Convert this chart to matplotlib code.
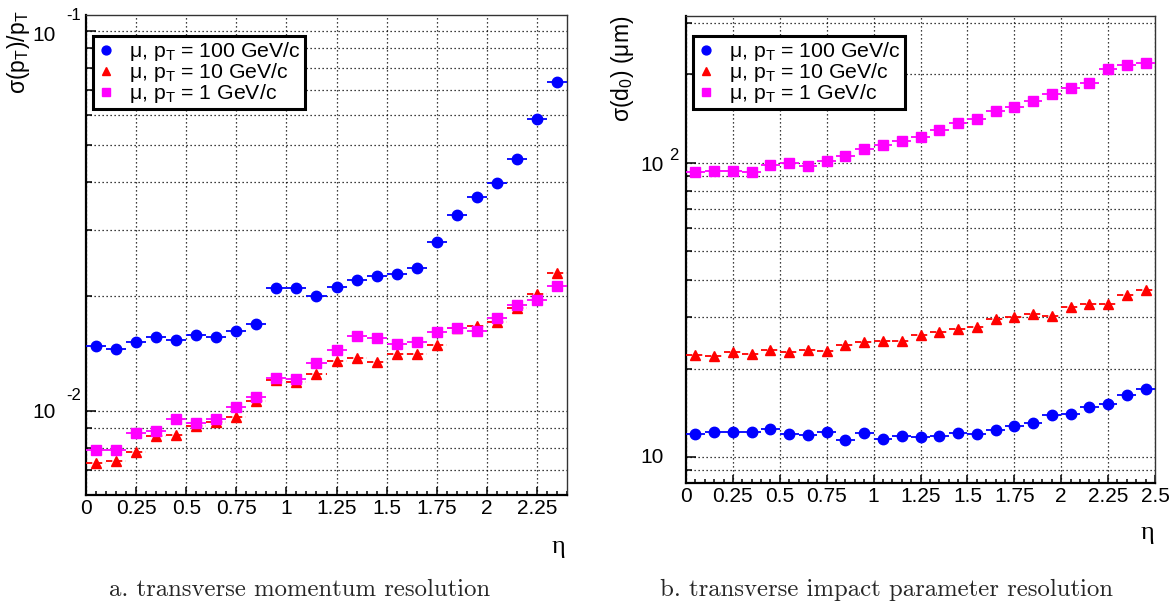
import matplotlib
matplotlib.use('Agg')
import matplotlib.pyplot as plt
from matplotlib.lines import Line2D
from matplotlib.ticker import LogLocator, MultipleLocator, NullFormatter, FixedLocator, FixedFormatter

plt.rcParams['font.family'] = ['Liberation Sans', 'DejaVu Sans']
plt.rcParams['mathtext.fontset'] = 'custom'
plt.rcParams['mathtext.rm'] = 'Liberation Sans'
plt.rcParams['mathtext.it'] = 'Liberation Sans:italic'
plt.rcParams['mathtext.bf'] = 'Liberation Sans:bold'
plt.rcParams['mathtext.default'] = 'regular'

# ---------------- data ----------------
eta_a = [0.05, 0.15, 0.25, 0.35, 0.45, 0.55, 0.65, 0.75, 0.85, 0.95, 1.05, 1.15,
         1.25, 1.35, 1.45, 1.55, 1.65, 1.75, 1.85, 1.95, 2.05, 2.15, 2.25, 2.35]
ptres_100 = [0.0148, 0.0145, 0.0152, 0.0156, 0.01535, 0.0158, 0.0156, 0.0162, 0.0169,
             0.0211, 0.0211, 0.0201, 0.0212, 0.0221, 0.0227, 0.0229, 0.0238, 0.0278,
             0.0328, 0.0366, 0.0398, 0.0460, 0.0587, 0.0734]
ptres_10 = [0.00727, 0.00739, 0.0078, 0.00859, 0.00865, 0.00913, 0.00932, 0.0096, 0.01062,
            0.01207, 0.01194, 0.01249, 0.01351, 0.01379, 0.01346, 0.0141, 0.0141, 0.01489,
            0.01647, 0.01674, 0.01708, 0.0187, 0.0203, 0.0230]
ptres_1 = [0.00789, 0.00789, 0.00872, 0.00886, 0.00951, 0.00928, 0.00951, 0.0102, 0.01084,
           0.01221, 0.01216, 0.01332, 0.01447, 0.01575, 0.01553, 0.01503, 0.01519, 0.01614,
           0.01654, 0.0162, 0.0175, 0.01897, 0.01959, 0.0213]

eta_b = [0.05, 0.15, 0.25, 0.35, 0.45, 0.55, 0.65, 0.75, 0.85, 0.95, 1.05, 1.15, 1.25,
         1.35, 1.45, 1.55, 1.65, 1.75, 1.85, 1.95, 2.05, 2.15, 2.25, 2.35, 2.45]
d0res_100 = [12.0, 12.16, 12.2, 12.13, 12.42, 12.0, 11.88, 12.16, 11.4, 12.04, 11.55, 11.82,
             11.7, 11.82, 12.07, 12.0, 12.35, 12.71, 13.05, 13.86, 13.97, 14.8, 15.1, 16.3, 17.0]
d0res_10 = [22.2, 22.0, 22.75, 22.4, 23.1, 22.75, 23.1, 22.9, 24.0, 24.7, 24.9, 24.9, 26.1,
            26.7, 27.3, 27.7, 29.5, 29.9, 30.6, 30.1, 32.4, 33.1, 33.2, 35.6, 36.9]
d0res_1 = [93.0, 94.2, 94.2, 93.4, 98.7, 99.8, 97.9, 101.6, 105.9, 111.3, 114.7, 119.1, 122.6,
           129.2, 136.5, 140.8, 150.6, 154.7, 162.1, 171.7, 180.4, 186.7, 208.8, 215.4, 218.3]

bin_halfwidth = 0.05
legend_labels = ['μ, p$_{T}$ = 100 GeV/c', 'μ, p$_{T}$ = 10 GeV/c', 'μ, p$_{T}$ = 1 GeV/c']
xticks_a = [0, 0.25, 0.5, 0.75, 1, 1.25, 1.5, 1.75, 2, 2.25]
xticklabels_a = ['0', '0.25', '0.5', '0.75', '1', '1.25', '1.5', '1.75', '2', '2.25']
xticks_b = [0, 0.25, 0.5, 0.75, 1, 1.25, 1.5, 1.75, 2, 2.25, 2.5]
xticklabels_b = ['0', '0.25', '0.5', '0.75', '1', '1.25', '1.5', '1.75', '2', '2.25', '2.5']

colors = ['#0000ff', '#ff0000', '#ff00ff']
markers = ['o', '^', 's']
msizes = [7.5, 7.5, 7.0]

W, H = 1172, 605
fig = plt.figure(figsize=(W / 100, H / 100), dpi=100)

def frac_rect(x0, y0, x1, y1):
    return [x0 / W, 1 - y1 / H, (x1 - x0) / W, (y1 - y0) / H]

ax1 = fig.add_axes(frac_rect(86, 15, 567, 495))
ax2 = fig.add_axes(frac_rect(686, 16, 1155, 483))

def draw(ax, eta, series, xlim, ylim, xticks, xticklabels):
    for vals, c, m, ms, i in zip(series, colors, markers, msizes, range(3)):
        cont = ax.errorbar(eta, vals, xerr=bin_halfwidth, fmt=m, color=c, ms=ms,
                           mec=c, mfc=c, elinewidth=1.3, capsize=0, zorder=3 + i)
        if i == 1:
            cont[2][0].set_linestyle((0, (3.5, 2)))
    ax.set_yscale('log')
    ax.set_xlim(*xlim)
    ax.set_ylim(*ylim)
    ax.xaxis.set_major_locator(FixedLocator(xticks))
    ax.xaxis.set_major_formatter(FixedFormatter(xticklabels))
    ax.xaxis.set_minor_locator(MultipleLocator(0.05))
    ax.yaxis.set_major_locator(LogLocator(base=10, numticks=10))
    ax.yaxis.set_minor_locator(LogLocator(base=10, subs=[2, 3, 4, 5, 6, 7, 8, 9], numticks=20))
    ax.yaxis.set_major_formatter(NullFormatter())
    ax.yaxis.set_minor_formatter(NullFormatter())
    grid_kw = dict(color='black', linestyle=(0, (1, 2.2)), linewidth=0.9)
    ax.grid(True, which='major', axis='x', **grid_kw)
    ax.grid(True, which='both', axis='y', **grid_kw)
    ax.set_axisbelow(True)
    ax.tick_params(which='both', direction='in', top=False, right=False, width=1.1,
                   labelsize=15, pad=3, color='black')
    ax.tick_params(axis='x', which='major', length=6)
    ax.tick_params(axis='x', which='minor', length=3)
    ax.tick_params(axis='y', which='major', length=7)
    ax.tick_params(axis='y', which='minor', length=4)
    for s in ['left', 'bottom']:
        ax.spines[s].set_linewidth(1.6)
        ax.spines[s].set_color('black')
    for s in ['top', 'right']:
        ax.spines[s].set_linewidth(1.0)
        ax.spines[s].set_color('#333333')
    handles = [Line2D([], [], ls='none', marker=m, color=c, ms=ms * 0.85)
               for c, m, ms in zip(colors, markers, msizes)]
    return handles

h1 = draw(ax1, eta_a, [ptres_100, ptres_10, ptres_1], (0, 2.4), (0.006, 0.1102),
          xticks_a, xticklabels_a)
h2 = draw(ax2, eta_b, [d0res_100, d0res_10, d0res_1], (0, 2.5), (8.16, 316),
          xticks_b, xticklabels_b)

for ax, h, anchor in [(ax1, h1, (7 / 481, 1 - 21 / 480)), (ax2, h2, (7 / 469, 1 - 20 / 467))]:
    leg = ax.legend(h, legend_labels, loc='upper left', bbox_to_anchor=anchor,
                    borderaxespad=0, fontsize=15.3, frameon=True, fancybox=False,
                    framealpha=1, edgecolor='black', borderpad=0.2, labelspacing=-0.1,
                    handlelength=0.8, handletextpad=0.7)
    leg.get_frame().set_linewidth(2.2)
    leg.set_zorder(10)

# log-axis labels in ROOT style ("10" with a raised exponent)
def decade_label(ax, yval, base_dx, exp_dx, exp_dy, exp_text, base_dy=0):
    ax.annotate('10', xy=(0, yval), xycoords=('axes fraction', 'data'),
                xytext=(base_dx, base_dy), textcoords='offset pixels',
                ha='right', va='center', fontsize=15, annotation_clip=False)
    ax.annotate(exp_text, xy=(0, yval), xycoords=('axes fraction', 'data'),
                xytext=(exp_dx, exp_dy), textcoords='offset pixels',
                ha='left', va='center', fontsize=12, annotation_clip=False)

decade_label(ax1, 0.1, -30, -20, 16, '-1', base_dy=-4)
decade_label(ax1, 0.01, -30, -20, 15, '-2', base_dy=-2)
decade_label(ax2, 100, -22, -17, 7, '2', base_dy=-3)
ax2.annotate('10', xy=(0, 10), xycoords=('axes fraction', 'data'), xytext=(-22, 0),
             textcoords='offset pixels', ha='right', va='center', fontsize=15,
             annotation_clip=False)

# axis titles
fig.text(18 / W, 1 - 11 / H, 'σ(p$_{T}$)/p$_{T}$', rotation=90, ha='center', va='top', fontsize=16.5)
fig.text(623 / W, 1 - 16 / H, 'σ(d$_{0}$) (μm)', rotation=90, ha='center', va='top', fontsize=16.5)
fig.text(558 / W, 1 - 547 / H, 'η', family='Liberation Serif', ha='center', va='center', fontsize=19)
fig.text(1147 / W, 1 - 533 / H, 'η', family='Liberation Serif', ha='center', va='center', fontsize=19)

# captions
fig.text(300 / W, 1 - 590 / H, 'a. transverse momentum resolution', family='cmr10',
         ha='center', va='center', fontsize=17.8, color='#262626')
fig.text(886 / W, 1 - 590 / H, 'b. transverse impact parameter resolution', family='cmr10',
         ha='center', va='center', fontsize=17.8, color='#262626')

fig.savefig('out.png', dpi=100)
